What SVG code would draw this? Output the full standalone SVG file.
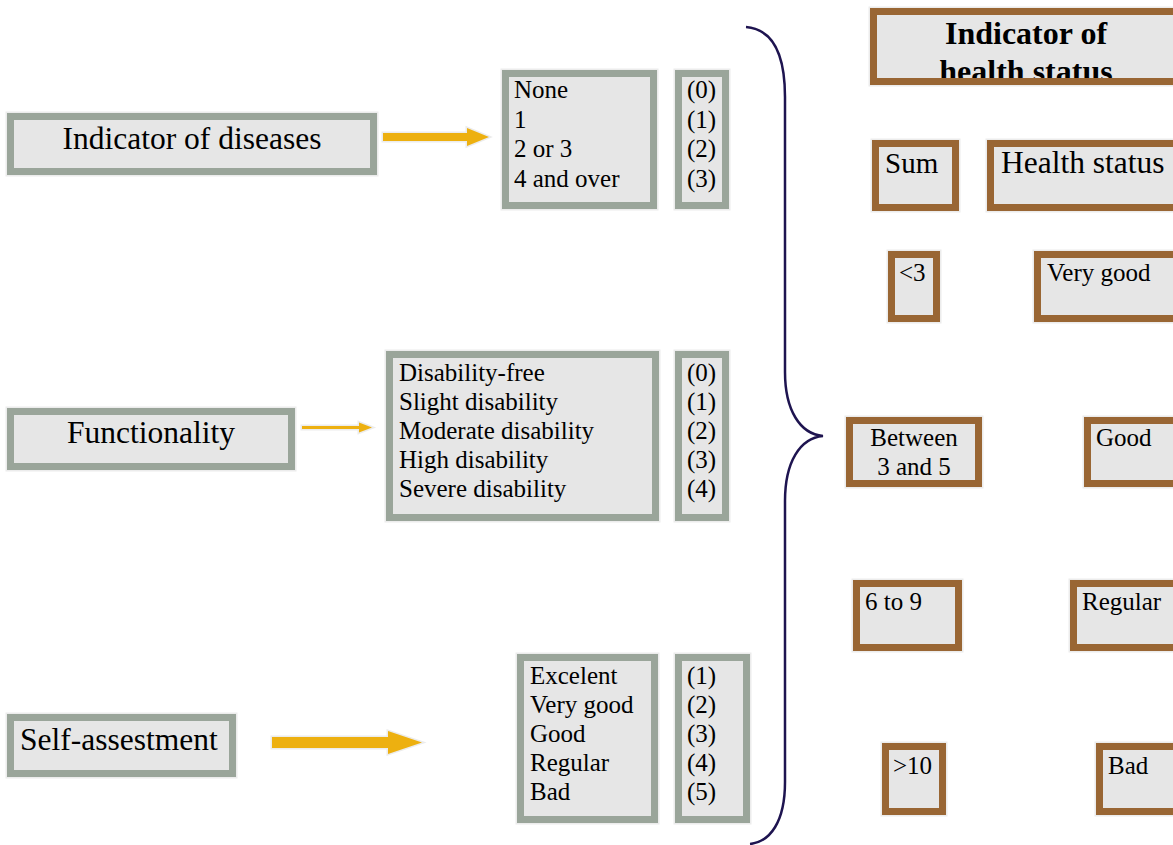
<svg xmlns="http://www.w3.org/2000/svg" width="1173" height="845" viewBox="0 0 1173 845">
<defs>
<style>
.halo{fill:none;stroke:#ECECEC;stroke-width:3}
.g{fill:#E6E6E6;stroke:#9AA59A;stroke-width:7}
.b{fill:#E6E6E6;stroke:#996634;stroke-width:7}
.bo{fill:none;stroke:#996634;stroke-width:7}
text{font-family:"Liberation Serif","Times New Roman",serif;fill:#000}
.big{font-size:31.5px}
.sm{font-size:25px}
.ttl{font-size:32px;font-weight:bold}
.arrow{fill:#EDB010;stroke:#ECECEC;stroke-width:3;stroke-linejoin:miter;paint-order:stroke}
.brace{fill:none;stroke:#1E1450;stroke-width:2.5}
</style>
<clipPath id="titleClip"><rect x="877" y="14" width="310" height="65"/></clipPath>
</defs>
<rect width="1173" height="845" fill="#FFFFFF"/>

<g id="connectors">
<polygon class="arrow" points="383,133 467,133 467,128 489,137 467,146 467,141 383,141"/>
<polygon class="arrow" points="302,426 359,426 359,422.5 372,427.5 359,432.5 359,429 302,429"/>
<polygon class="arrow" points="272,737 388,737 388,731 422,742.5 388,754 388,748 272,748"/>
<path class="brace" d="M746,27 C770,29 785,50 785,97 L785,372 C785,410 800,434 823,436 C800,438 785,462 785,501 L785,782 C785,822 770,842 750,844"/>
</g>

<g id="indicator-diseases">
<rect class="halo" x="7" y="113" width="370" height="62"/>
<rect class="g" x="10.5" y="116.5" width="363" height="55"/>
<text class="big" x="192" y="149" text-anchor="middle">Indicator of diseases</text>
</g>
<g id="diseases-list">
<rect class="halo" x="502" y="70" width="155" height="139"/>
<rect class="g" x="505.5" y="73.5" width="148" height="132"/>
<text class="sm" x="514" y="98">None</text>
<text class="sm" x="514" y="127.5">1</text>
<text class="sm" x="514" y="157">2 or 3</text>
<text class="sm" x="514" y="186.5">4 and over</text>
</g>
<g id="diseases-scores">
<rect class="halo" x="675" y="70" width="54" height="139"/>
<rect class="g" x="678.5" y="73.5" width="47" height="132"/>
<text class="sm" x="687" y="98">(0)</text>
<text class="sm" x="687" y="127.5">(1)</text>
<text class="sm" x="687" y="157">(2)</text>
<text class="sm" x="687" y="186.5">(3)</text>
</g>

<g id="functionality">
<rect class="halo" x="7" y="408" width="288" height="62"/>
<rect class="g" x="10.5" y="411.5" width="281" height="55"/>
<text class="big" x="151" y="443" text-anchor="middle">Functionality</text>
</g>
<g id="functionality-list">
<rect class="halo" x="386" y="351" width="273" height="170"/>
<rect class="g" x="389.5" y="354.5" width="266" height="163"/>
<text class="sm" x="399" y="381">Disability-free</text>
<text class="sm" x="399" y="410">Slight disability</text>
<text class="sm" x="399" y="439">Moderate disability</text>
<text class="sm" x="399" y="468">High disability</text>
<text class="sm" x="399" y="497">Severe disability</text>
</g>
<g id="functionality-scores">
<rect class="halo" x="675" y="351" width="54" height="170"/>
<rect class="g" x="678.5" y="354.5" width="47" height="163"/>
<text class="sm" x="687" y="381">(0)</text>
<text class="sm" x="687" y="410">(1)</text>
<text class="sm" x="687" y="439">(2)</text>
<text class="sm" x="687" y="468">(3)</text>
<text class="sm" x="687" y="497">(4)</text>
</g>

<g id="self-assessment">
<rect class="halo" x="7" y="714" width="229" height="63"/>
<rect class="g" x="10.5" y="717.5" width="222" height="56"/>
<text class="big" x="20" y="750">Self-assestment</text>
</g>
<g id="self-list">
<rect class="halo" x="517" y="654" width="141" height="169"/>
<rect class="g" x="520.5" y="657.5" width="134" height="162"/>
<text class="sm" x="530" y="684">Excelent</text>
<text class="sm" x="530" y="713">Very good</text>
<text class="sm" x="530" y="742">Good</text>
<text class="sm" x="530" y="771">Regular</text>
<text class="sm" x="530" y="800">Bad</text>
</g>
<g id="self-scores">
<rect class="halo" x="675" y="654" width="75" height="169"/>
<rect class="g" x="678.5" y="657.5" width="68" height="162"/>
<text class="sm" x="687" y="684">(1)</text>
<text class="sm" x="687" y="713">(2)</text>
<text class="sm" x="687" y="742">(3)</text>
<text class="sm" x="687" y="771">(4)</text>
<text class="sm" x="687" y="800">(5)</text>
</g>

<g id="title">
<rect class="halo" x="870" y="8" width="312" height="77"/>
<rect fill="#E6E6E6" x="873.5" y="11.5" width="305" height="70"/>
<g clip-path="url(#titleClip)">
<text class="ttl" x="1026" y="44" text-anchor="middle">Indicator of</text>
<text class="ttl" x="1026" y="82" text-anchor="middle">health status</text>
</g>
<rect class="bo" x="873.5" y="11.5" width="305" height="70"/>
</g>

<g id="sum-header">
<rect class="halo" x="872" y="140" width="87" height="71"/>
<rect class="b" x="875.5" y="143.5" width="80" height="64"/>
<text x="885" y="173" style="font-size:29px">Sum</text>
</g>
<g id="health-header">
<rect class="halo" x="987" y="140" width="195" height="71"/>
<rect class="b" x="990.5" y="143.5" width="188" height="64"/>
<text class="big" x="1001" y="173">Health status</text>
</g>

<g id="sum-lt3">
<rect class="halo" x="888" y="251" width="52" height="71"/>
<rect class="b" x="891.5" y="254.5" width="45" height="64"/>
<text class="sm" x="899" y="281">&lt;3</text>
</g>
<g id="status-very-good">
<rect class="halo" x="1034" y="251" width="148" height="71"/>
<rect class="b" x="1037.5" y="254.5" width="141" height="64"/>
<text class="sm" x="1047" y="281">Very good</text>
</g>

<g id="sum-3-5">
<rect class="halo" x="846" y="417" width="136" height="70"/>
<rect class="b" x="849.5" y="420.5" width="129" height="63"/>
<text class="sm" x="914" y="446" text-anchor="middle">Between</text>
<text class="sm" x="914" y="475" text-anchor="middle">3 and 5</text>
</g>
<g id="status-good">
<rect class="halo" x="1084" y="417" width="98" height="70"/>
<rect class="b" x="1087.5" y="420.5" width="91" height="63"/>
<text class="sm" x="1096" y="446">Good</text>
</g>

<g id="sum-6-9">
<rect class="halo" x="853" y="580" width="109" height="71"/>
<rect class="b" x="856.5" y="583.5" width="102" height="64"/>
<text class="sm" x="865" y="610">6 to 9</text>
</g>
<g id="status-regular">
<rect class="halo" x="1070" y="580" width="112" height="71"/>
<rect class="b" x="1073.5" y="583.5" width="105" height="64"/>
<text class="sm" x="1082" y="610">Regular</text>
</g>

<g id="sum-gt10">
<rect class="halo" x="882" y="743" width="64" height="72"/>
<rect class="b" x="885.5" y="746.5" width="57" height="65"/>
<text class="sm" x="893" y="774">&gt;10</text>
</g>
<g id="status-bad">
<rect class="halo" x="1096" y="743" width="86" height="72"/>
<rect class="b" x="1099.5" y="746.5" width="79" height="65"/>
<text class="sm" x="1108" y="774">Bad</text>
</g>
</svg>
